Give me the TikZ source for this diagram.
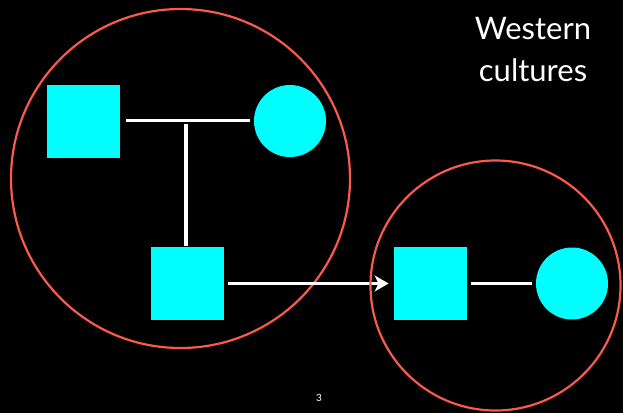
\documentclass[tikz,border=0pt]{standalone}
\usepackage{fontspec}
\setmainfont{Lato}
\usetikzlibrary{arrows.meta}
\usetikzlibrary{positioning}
\definecolor{ringred}{RGB}{250,90,75}
\definecolor{aqua}{RGB}{0,255,255}
\begin{document}
\begin{tikzpicture}[x=1pt, y=-1pt, thick,
    male/.style={rectangle, fill=aqua, inner sep=0pt, minimum size=73pt},
    female/.style={circle, fill=aqua, inner sep=0pt, minimum size=72pt},
    ring/.style={circle, draw=ringred, line width=2.2pt, inner sep=0pt},
    tie/.style={draw=white, line width=3.2pt}]
				\fill[black] (0,0) rectangle (623,413);
				\useasboundingbox (0,0) rectangle (623,413);
				\node[ring, minimum size=339pt] (Family) at (180.5,178.5) {};
				\node[male] (Father) at (83.5,121.5) {};
				\node[female] (Mother) at (290,121) {};
				\node[male] (Son) at (187.5,283.5) {};
				\node[male] (Husband) at (430.5,283.5) {};
				\node[female] (Wife) at (572,283.5) {};
				\coordinate (Couple) at (186,120.5);
				\draw[tie, shorten <=6pt, shorten >=4pt] (Father.east |- Couple) -- (Mother.west |- Couple);
				\draw[tie, shorten <=3pt, shorten >=1pt] (Couple) -- (Son.north -| Couple);
				\draw[tie, shorten <=4pt, shorten >=5pt, -{Stealth[length=14pt, width=16pt, inset=4pt]}] (Son) -- (Husband);
				\draw[tie, shorten <=4pt, shorten >=4pt] (Husband) -- (Wife);
				\node[ring, minimum size=250pt] (NewFamily) at (495.5,285.5) {};
				\node[text=white, font=\fontsize{31}{42}\selectfont, align=center] (Title) at (533,50) {Western\\cultures};
				\node[text=white, font=\fontsize{10}{11}\selectfont] (Page) at (319,398) {3};
			\end{tikzpicture}
\end{document}
